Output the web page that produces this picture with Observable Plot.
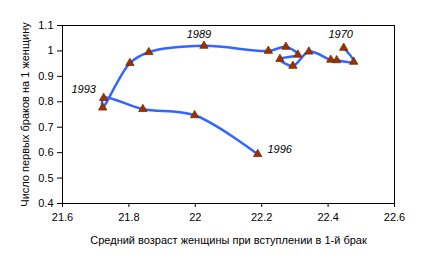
<!DOCTYPE html>
<html><head><meta charset="utf-8">
<script src="https://cdn.jsdelivr.net/npm/d3@7"></script>
<script src="https://cdn.jsdelivr.net/npm/@observablehq/plot@0.6"></script>
<style>body{margin:0;background:#fff;} svg{font-family:"Liberation Sans",Arial,sans-serif;}</style>
</head><body><div id="chart"></div>
<script>
const years = [1970,1975,1980,1982,1983,1984,1985,1986,1987,1988,1989,1990,1991,1992,1993,1994,1995,1996];
const ageAtMarriage = [22.447,22.477,22.426,22.408,22.342,22.294,22.255,22.309,22.273,22.220,22.026,21.860,21.803,21.721,21.724,21.842,21.998,22.188];
const firstMarriages = [1.012,0.957,0.963,0.965,0.997,0.941,0.968,0.985,1.016,1.000,1.020,0.995,0.952,0.777,0.815,0.771,0.747,0.594];
const labelYears = [1970,1989,1993,1996];
const xTicks = [21.6,21.8,22,22.2,22.4,22.6];
const yTicks = [0.4,0.5,0.6,0.7,0.8,0.9,1,1.1];

const data = years.map((year,i)=>({year, x: ageAtMarriage[i], y: firstMarriages[i]}));
const labels = data.filter(d => labelYears.includes(d.year));
const offs = {1970:[-3,-13],1989:[-5,-11],1993:[-20,-9],1996:[22,-5]};

const chart = Plot.plot({
  width: 421, height: 267,
  marginLeft: 62, marginRight: 27, marginTop: 25, marginBottom: 64,
  style: {fontFamily: '"Liberation Sans", Arial, sans-serif', fontSize: "11px", color: "#000", background: "#fff"},
  x: {domain: [21.6, 22.6]},
  y: {domain: [0.4, 1.1]},
  marks: [
    Plot.axisX({ticks: xTicks, tickFormat: d => String(d), tickSize: 4, tickPadding: 6, labelOffset: 40, label: "Средний возраст женщины при вступлении в 1-й брак", labelAnchor: "center", labelArrow: "none"}),
    Plot.axisY({ticks: yTicks, tickFormat: d => String(d), tickSize: 5, tickPadding: 4, labelOffset: 41, label: "Число первых браков на 1 женщину", labelAnchor: "center", labelArrow: "none"}),
    Plot.frame({stroke: "#000"}),
    Plot.line(data, {x: "x", y: "y", curve: "catmull-rom", stroke: "#3366ff", strokeWidth: 2.5}),
    Plot.dot(data, {x: "x", y: "y", symbol: "triangle", r: 3.1, fill: "#993300", stroke: "#7a2800", strokeWidth: 0.8}),
    ...labels.map(d => Plot.text([d], {x: "x", y: "y", text: d => String(d.year), dx: offs[d.year][0], dy: offs[d.year][1], fontStyle: "italic", fontSize: 11, fill: "#000"}))
  ]
});
document.getElementById("chart").appendChild(chart);
</script></body></html>
